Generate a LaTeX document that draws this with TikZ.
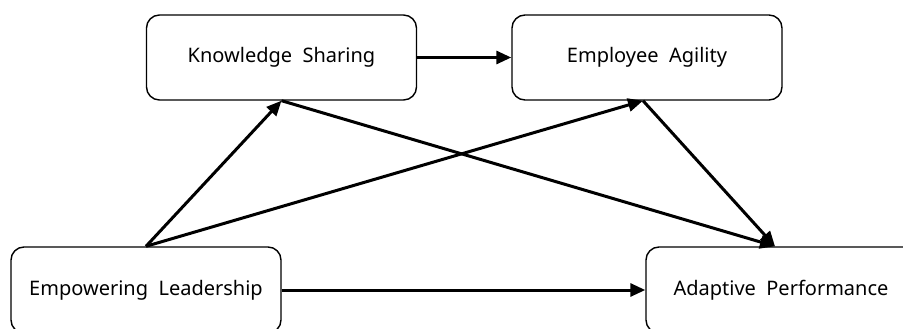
\documentclass[tikz,border=0pt]{standalone}
\usepackage{fontspec}
\setmainfont{Noto Sans}
\usetikzlibrary{arrows.meta}
\tikzset{
  varbox/.style={draw=black, line width=1.4pt, rounded corners=13pt, fill=white,
    minimum width=270pt, minimum height=85pt, inner sep=0pt,
    font=\fontsize{20}{24}\selectfont},
  path/.style={line width=3pt, -{Triangle[length=15pt,width=13pt]}}
}
\begin{document}
\begin{tikzpicture}[x=1pt,y=-1pt]
\useasboundingbox (0,0) rectangle (903,329);
\node[varbox] (KS) at (281.5,57.5) {Knowledge\ \ Sharing};
\node[varbox] (EA) at (647,57.5) {Employee\ \ Agility};
\node[varbox, minimum height=86pt] (EL) at (146,290) {Empowering\ \ Leadership};
\node[varbox, minimum height=86pt] (AP) at (781,290) {Adaptive\ \ Performance};
\draw[path] (KS.east) -- (EA.west);
\draw[path] (EL.north) -- (KS.south);
\draw[path] (EL.north) -- ([xshift=-4pt]EA.south);
\draw[path] (KS.south) -- ([xshift=-6pt]AP.north);
\draw[path] ([xshift=-4pt]EA.south) -- ([xshift=-6pt]AP.north);
\draw[path] (EL.east) -- (AP.west);
\end{tikzpicture}
\end{document}
